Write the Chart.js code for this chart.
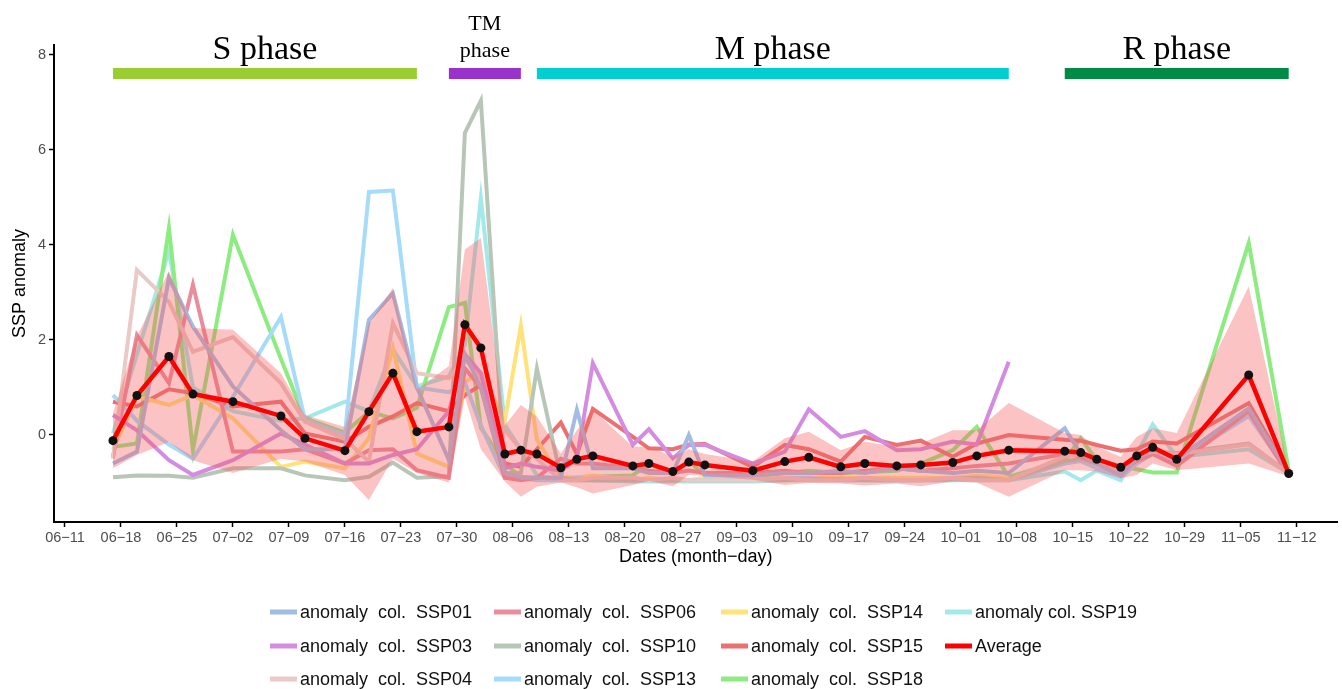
<!DOCTYPE html>
<html lang="en">
<head>
<meta charset="UTF-8">
<title>SSP anomaly</title>
<style>
  html, body { margin: 0; padding: 0; background: #fff; }
</style>
</head>
<body>
<canvas id="myChart" width="1342" height="689"></canvas>

<script src="https://cdn.jsdelivr.net/npm/chart.js"></script>
<script>
// sampling dates (month-day)
const dates = ['06-17','06-20','06-24','06-27','07-02','07-08','07-11','07-16','07-19','07-22','07-25',
  '07-29','07-31','08-02','08-05','08-07','08-09','08-12','08-14','08-16','08-21','08-23','08-26','08-28','08-30',
  '09-05','09-09','09-12','09-16','09-19','09-23','09-26','09-30','10-03','10-07',
  '10-14','10-16','10-18','10-21','10-23','10-25','10-28','11-06','11-11'];

const tickLabels = ['06-11','06-18','06-25','07-02','07-09','07-16','07-23','07-30','08-06','08-13','08-20','08-27',
  '09-03','09-10','09-17','09-24','10-01','10-08','10-15','10-22','10-29','11-05','11-12'];

const average = [-0.12, 0.83, 1.65, 0.86, 0.70, 0.40, -0.07, -0.33, 0.49, 1.30, 0.07,
  0.17, 2.32, 1.83, -0.40, -0.32, -0.40, -0.69, -0.51, -0.44, -0.65, -0.60, -0.77, -0.57, -0.63,
  -0.75, -0.56, -0.47, -0.67, -0.60, -0.65, -0.63, -0.58, -0.44, -0.32,
  -0.34, -0.37, -0.51, -0.68, -0.44, -0.26, -0.51, 1.26, -0.81];
const bandHigh = [0.45, 2.07, 3.45, 2.25, 2.21, 1.30, 0.42, 0.17, 2.35, 3.09, 0.95,
  1.45, 3.90, 4.14, 0.20, 0.63, 0.39, -0.39, 0.10, 0.53, -0.25, -0.24, -0.46, -0.30, -0.40,
  -0.56, -0.07, 0.07, -0.32, -0.14, -0.25, -0.18, 0.10, 0.10, 0.67,
  0.04, 0.00, -0.25, -0.46, -0.04, 0.14, 0.04, 3.12, -0.75];
const bandLow = [-0.70, -0.42, -0.15, -0.53, -0.80, -0.50, -0.56, -0.84, -1.37, -0.50, -0.80,
  -1.00, 0.80, -0.30, -0.98, -1.30, -1.09, -1.00, -1.10, -1.23, -1.05, -0.96, -1.08, -0.84, -0.86,
  -0.94, -1.05, -1.01, -1.02, -1.06, -1.02, -1.08, -0.98, -1.00, -1.30,
  -0.74, -0.74, -0.77, -0.91, -0.84, -0.60, -0.74, -0.60, -0.87];

const ssp01 = [-0.60, -0.35, 3.30, 2.28, 1.02, 0.10, -0.30, -0.30, 2.42, 2.98, 1.00,
  -0.53, 1.70, 1.00, -0.80, -0.90, -0.90, -0.90, 0.53, -0.70, -0.70, -0.80, -0.80, 0.00, -0.85,
  -0.85, -0.80, -0.80, -0.75, -0.80, -0.70, -0.75, -0.80, -0.75, -0.80,
  0.14, -0.40, -0.60, -0.85, -0.50, -0.30, -0.50, 0.56, -0.80];
const ssp03 = [0.42, 0.10, -0.53, -0.84, -0.53, 0.03, -0.20, -0.60, -0.60, -0.42, -0.30,
  0.50, 1.70, 1.30, -0.70, -0.60, -0.67, -0.75, -0.50, 1.51, -0.21, 0.12, -0.49, -0.21, -0.21,
  -0.60, -0.35, 0.54, -0.04, 0.08, -0.32, -0.30, -0.14, -0.20, 1.54,
  null, null, null, null, null, null, null, null, null];
const ssp04 = [-0.50, 3.47, 2.80, 1.75, 2.06, 1.09, 0.28, -0.09, -0.56, 2.35, 1.30,
  1.20, 1.60, 1.20, 0.10, -0.30, -0.50, -0.95, -0.95, -0.90, -0.90, -0.95, -0.90, -0.95, -0.95,
  -0.95, -0.90, -0.95, -0.95, -0.90, -0.95, -0.95, -0.90, -0.95, -0.95,
  -0.45, -0.40, -0.55, -0.80, -0.45, -0.35, -0.40, -0.20, -0.80];
const ssp06 = [-0.46, 2.10, 1.09, 3.16, -0.35, -0.35, -0.30, -0.60, -0.32, -0.30, -0.74,
  -0.90, 1.40, 1.00, -0.90, -0.95, -0.90, -0.50, -0.60, -0.60, -0.70, -0.75, -0.80, -0.75, -0.80,
  -0.80, -0.75, -0.80, -0.80, -0.75, -0.70, -0.75, -0.70, -0.65, -0.60,
  -0.40, -0.45, -0.60, -0.75, -0.55, -0.40, -0.65, 0.50, -0.85];
const ssp10 = [-0.89, -0.85, -0.86, -0.90, -0.70, -0.70, -0.85, -0.95, -0.88, -0.58, -0.90,
  -0.87, 6.35, 7.03, -0.80, -0.80, 1.40, -0.90, -0.95, -0.95, -0.95, -0.95, -0.95, -0.95, -0.95,
  -0.95, -0.95, -0.93, -0.93, -0.95, -0.95, -0.95, -0.92, -0.90, -0.95,
  -0.55, -0.50, -0.60, -0.85, -0.50, -0.35, -0.38, -0.18, -0.80];
const ssp13 = [0.84, 0.30, -0.20, -0.50, 0.80, 2.48, 0.32, 0.00, 5.11, 5.14, 1.00,
  0.90, 1.10, 0.20, -0.90, -0.90, -0.95, -0.95, -0.90, -0.95, -0.95, -0.95, -0.95, -0.95, -0.95,
  -0.95, -0.90, -0.90, -0.95, -0.95, -0.95, -0.95, -0.95, -0.90, -0.95,
  -0.60, -0.55, -0.70, -0.90, -0.60, -0.40, -0.55, 0.40, -0.80];
const ssp14 = [-0.32, 0.81, 0.63, 0.84, 0.35, -0.67, -0.56, -0.70, -0.07, 1.83, -0.39,
  -0.67, 1.12, 1.30, 0.30, 2.30, -0.10, -0.90, -0.90, -0.85, -0.95, -0.90, -0.95, -0.95, -0.90,
  -0.90, -0.95, -0.90, -0.90, -0.90, -0.90, -0.90, -0.90, -0.85, -0.90,
  null, null, null, null, null, null, null, null, null];
const ssp15 = [0.70, 0.60, 0.96, 0.88, 0.60, 0.70, 0.03, -0.14, 0.17, 0.39, 0.67,
  0.50, 0.84, 1.05, -0.60, -0.67, -0.30, 0.26, -0.40, 0.55, -0.04, -0.28, -0.30, -0.20, -0.19,
  -0.67, -0.21, -0.30, -0.56, -0.04, -0.21, -0.12, -0.46, -0.18, 0.00,
  -0.10, -0.12, -0.21, -0.33, -0.30, -0.14, -0.18, 0.67, -0.80];
const ssp18 = [-0.25, -0.18, 4.35, -0.32, 4.21, 1.60, 0.35, 0.05, 0.49, 0.35, 0.57,
  2.69, 2.78, 0.15, -0.60, -0.88, -0.90, -0.90, -0.90, -0.88, -0.85, -0.60, -0.82, -0.55, -0.85,
  -0.88, -0.80, -0.75, -0.80, -0.78, -0.75, -0.60, -0.32, 0.17, -0.88,
  -0.53, -0.07, -0.53, -0.65, -0.72, -0.79, -0.79, 4.04, -0.75];
const ssp19 = [0.03, 1.70, 3.86, 1.00, 0.50, 0.30, 0.35, 0.70, 0.50, 1.80, 1.02,
  1.23, 1.90, 4.98, 0.21, -0.30, -0.85, -0.95, -0.95, -0.95, -0.98, -0.98, -0.98, -0.98, -0.98,
  -0.98, -0.95, -0.95, -0.95, -0.95, -0.95, -0.95, -0.95, -0.95, -0.95,
  -0.77, -0.95, -0.75, -0.95, -0.40, 0.22, -0.46, -0.30, -0.80];

// phase bars along the top
const phaseNames = ['S phase', 'TM\nphase', 'M phase', 'R phase'];
const phaseStart = ['06-17', '07-29', '08-09', '10-14'];
const phaseEnd = ['07-25', '08-07', '10-07', '11-11'];
const phaseColors = ['#9ACD32', '#9932CC', '#00CED1', '#008B45'];
const phaseY = 7.6;

// legend order as in the figure (column by column)
const seriesNames = ['SSP01', 'SSP03', 'SSP04', 'SSP06', 'SSP10', 'SSP13', 'SSP14', 'SSP15', 'SSP18', 'SSP19'];
const seriesValues = [ssp01, ssp03, ssp04, ssp06, ssp10, ssp13, ssp14, ssp15, ssp18, ssp19];
const seriesColors = ['#A3BCE3', '#D48CE0', '#E9CAC6', '#E98C9C', '#B8C6B8', '#A6DBFA', '#FFE27A', '#EC7070', '#8CEC80', '#A3E9E9'];

const dayOf = s => {
    const [m, d] = s.split('-').map(Number);
    return (Date.UTC(2021, m - 1, d) - Date.UTC(2021, 5, 11)) / 864e5;
};
const pts = vals => dates.map((d, i) => ({ x: dayOf(d), y: vals[i] }));
const minus = s => s.replace('-', '\u2212');

const datasets = [];
seriesNames.forEach((n, i) => {
    datasets.push({
        label: n,
        data: pts(seriesValues[i]),
        borderColor: seriesColors[i],
        borderWidth: 4,
        pointRadius: 0,
        fill: false,
        order: 3
    });
});
// ribbon
datasets.push({ label: 'low', data: pts(bandLow), borderWidth: 0, borderColor: 'rgba(0,0,0,0)', pointRadius: 0, fill: false, order: 2 });
datasets.push({ label: 'high', data: pts(bandHigh), borderWidth: 0, borderColor: 'rgba(0,0,0,0)', pointRadius: 0,
    fill: '-1', backgroundColor: 'rgba(244, 96, 96, 0.38)', order: 2 });
datasets.push({
    label: 'Average',
    data: pts(average),
    borderColor: '#FF0000',
    borderWidth: 4.5,
    pointRadius: 4.5,
    pointBackgroundColor: '#111',
    pointBorderColor: '#111',
    pointBorderWidth: 0,
    fill: false,
    order: 1
});
phaseNames.forEach((n, i) => {
    datasets.push({
        label: n,
        data: [{ x: dayOf(phaseStart[i]), y: phaseY }, { x: dayOf(phaseEnd[i]), y: phaseY }],
        borderColor: phaseColors[i],
        borderWidth: 11,
        borderCapStyle: 'butt',
        pointRadius: 0,
        fill: false,
        order: 4
    });
});

// phase titles + legend grid drawn on the canvas
const overlay = {
    id: 'overlay',
    afterDraw(chart) {
        const { ctx, scales: { x, y } } = chart;
        ctx.save();
        ctx.fillStyle = '#000';
        ctx.textAlign = 'center';
        ctx.textBaseline = 'alphabetic';
        const barY = y.getPixelForValue(phaseY);
        phaseNames.forEach((name, i) => {
            const cx = (x.getPixelForValue(dayOf(phaseStart[i])) + x.getPixelForValue(dayOf(phaseEnd[i]))) / 2;
            const parts = name.split('\n');
            if (parts.length === 1) {
                ctx.font = '34px "Liberation Serif", "Times New Roman", serif';
                ctx.fillText(name, cx, barY - 15);
            } else {
                ctx.font = '22px "Liberation Serif", "Times New Roman", serif';
                ctx.fillText(parts[0], cx, barY - 44);
                ctx.fillText(parts[1], cx, barY - 17);
            }
        });

        // legend: 4 columns x 3 rows
        const items = seriesNames.map((n, i) => ({
            text: n === 'SSP19' ? 'anomaly col. ' + n : 'anomaly  col.  ' + n,
            color: seriesColors[i], width: 5
        }));
        items.push({ text: 'Average', color: '#FF0000', width: 5 });
        const colX = [270, 494, 721, 945];
        const rowY = [612, 646, 679];
        ctx.textAlign = 'left';
        ctx.textBaseline = 'middle';
        ctx.font = '18px "Liberation Sans", Arial, sans-serif';
        items.forEach((it, i) => {
            const cx = colX[Math.floor(i / 3)];
            const cy = rowY[i % 3];
            ctx.strokeStyle = it.color;
            ctx.lineWidth = it.width;
            ctx.beginPath();
            ctx.moveTo(cx, cy);
            ctx.lineTo(cx + 27, cy);
            ctx.stroke();
            ctx.fillStyle = '#111';
            ctx.fillText(it.text, cx + 30, cy + 1);
        });
        ctx.restore();
    }
};

const tickFont = { family: '"Liberation Sans", Arial, sans-serif', size: 14.5 };
const titleFont = { family: '"Liberation Sans", Arial, sans-serif', size: 18 };

new Chart(document.getElementById('myChart'), {
    type: 'line',
    data: { datasets },
    options: {
        responsive: false,
        animation: false,
        layout: { padding: { top: 45, right: 0, bottom: 117, left: 0 } },
        plugins: { legend: { display: false }, tooltip: { enabled: false } },
        scales: {
            x: {
                type: 'linear',
                min: -1.37,
                max: 159.1,
                afterBuildTicks: s => { s.ticks = tickLabels.map(t => ({ value: dayOf(t) })); },
                afterFit: s => { s.height = 50; },
                ticks: {
                    autoSkip: false,
                    maxRotation: 0,
                    color: '#4D4D4D',
                    font: tickFont,
                    padding: 2,
                    callback: (v, i) => minus(tickLabels[i])
                },
                grid: { drawOnChartArea: false, tickLength: 5, color: '#000', tickWidth: 1.5 },
                border: { color: '#000', width: 2 },
                title: { display: true, text: 'Dates (month\u2212day)', color: '#000', font: titleFont, padding: { top: 0, bottom: 4 } }
            },
            y: {
                min: -1.83,
                max: 8.2,
                afterFit: s => { s.width = 54; },
                ticks: { stepSize: 2, includeBounds: false, color: '#4D4D4D', font: tickFont, padding: 3 },
                grid: { drawOnChartArea: false, tickLength: 5, color: '#000', tickWidth: 1.5 },
                border: { color: '#000', width: 2 },
                title: { display: true, text: 'SSP anomaly', color: '#000', font: titleFont, padding: { top: 9, bottom: 0 } }
            }
        }
    },
    plugins: [overlay]
});
</script>
</body>
</html>
